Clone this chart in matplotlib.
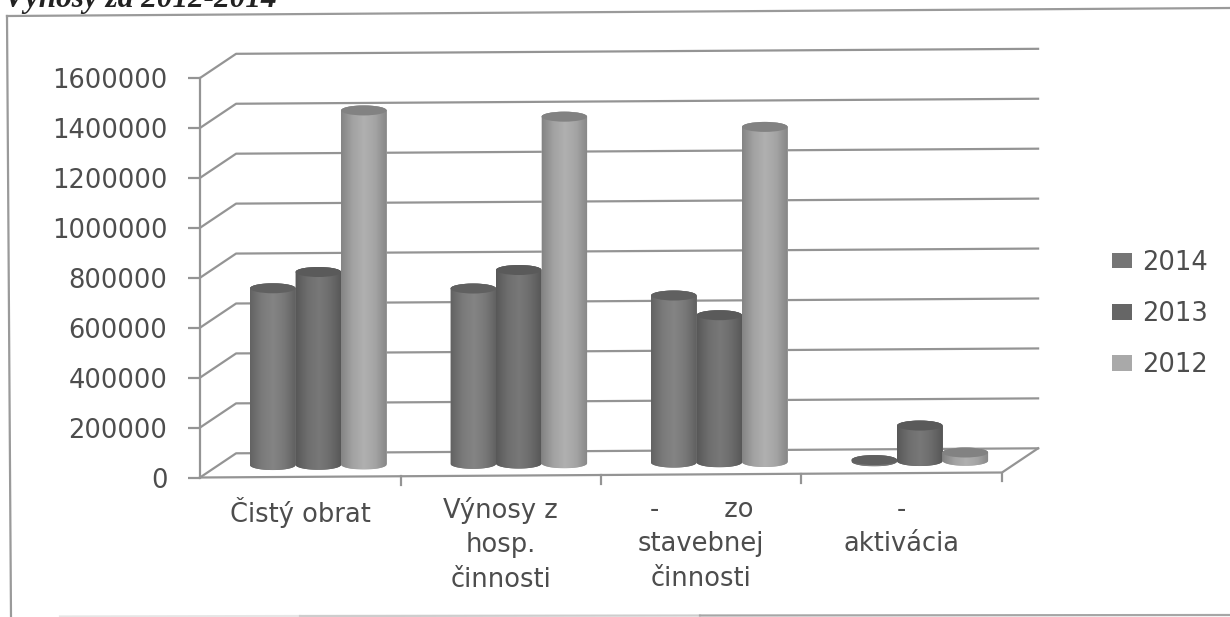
import numpy as np
import matplotlib
matplotlib.use("Agg")
import matplotlib.pyplot as plt
from matplotlib.colors import LinearSegmentedColormap
from matplotlib.lines import Line2D
from matplotlib.patches import Ellipse, PathPatch, Rectangle
from matplotlib.path import Path

categories = ["Čistý obrat", "Výnosy z\nhosp.\nčinnosti", "-        zo\nstavebnej\nčinnosti", "-\naktivácia"]
years = ["2014", "2013", "2012"]
values_2014 = [708000, 702000, 669000, 5000]
values_2013 = [772000, 775000, 589000, 142000]
values_2012 = [1418000, 1388000, 1342000, 33000]
y_ticks = [0, 200000, 400000, 600000, 800000, 1000000, 1200000, 1400000, 1600000]
title = "Výnosy za 2012-2014"

series = [values_2014, values_2013, values_2012]
ramps = [
    ["#636363", "#7a7a7a", "#848484", "#787878", "#606060"],
    ["#585858", "#6e6e6e", "#787878", "#6c6c6c", "#565656"],
    ["#848484", "#a2a2a2", "#b0b0b0", "#a4a4a4", "#868686"],
]
top_cols = ["#606060", "#5a5a5a", "#828282"]
swatch_cols = ["#757575", "#666666", "#a9a9a9"]
line_col = "#949494"
text_col = "#4d4d4d"
FONT = ["DejaVu Sans"]
FS = 18.5

W, H = 1230, 617
fig = plt.figure(figsize=(W / 100, H / 100), dpi=100, facecolor="white")
ax = fig.add_axes([200 / W, (H - 477.5) / H, 802 / W, 399.5 / H])
ax.set_facecolor("none")
XMAX, YMAX = 4, 1600000
ax.set_xlim(0, XMAX)
ax.set_ylim(0, YMAX)

DX, DY, TILT = 0.18, 96000, 5000.0   # depth shift of the back wall and scan tilt


def proj(x, v, d=0.0):
    xx = x + d * DX
    return xx, v + d * DY + TILT * xx


# gridlines on the walls
for v in y_ticks:
    x1, y1 = proj(0, v, 1)
    x2, y2 = proj(XMAX, v, 1)
    ax.plot([0, x1, x2], [v, y1, y2], color=line_col, lw=1.6, zorder=1, clip_on=False)

# floor
fx1, fy1 = proj(XMAX, 0, 0)
bx1, by1 = proj(XMAX, 0, 1)
ax.plot([0, fx1, bx1], [0, fy1, by1], color=line_col, lw=1.6, zorder=1, clip_on=False)
for c in range(1, XMAX + 1):
    tx, ty = proj(c, 0, 0)
    ax.plot([tx, tx], [ty, ty - 36000], color=line_col, lw=1.6, zorder=1, clip_on=False)

# cylinders
BW = 0.227
SEMI_V = 20000
t = np.linspace(0, np.pi, 40)
z = 3
grad = np.linspace(0, 1, 128).reshape(1, -1)
for cat in range(len(categories)):
    for s, vals in enumerate(series):
        cx, base = proj(cat + 0.5 + (s - 1) * BW, 0, 0.5)
        top = base + vals[cat]
        cmap = LinearSegmentedColormap.from_list(f"r{s}", ramps[s])
        ax.bar(cx, vals[cat], BW, bottom=base, color=swatch_cols[s], linewidth=0, zorder=z, clip_on=False)
        left, right = cx - BW / 2, cx + BW / 2
        xs = np.concatenate([cx - np.cos(t) * BW / 2, cx + np.cos(t) * BW / 2])
        ys = np.concatenate([base - np.sin(t) * SEMI_V, top + np.sin(t) * SEMI_V])
        path = Path(np.column_stack([xs, ys]))
        clip = PathPatch(path, transform=ax.transData, fc=swatch_cols[s], ec="none", zorder=z, clip_on=False)
        ax.add_patch(clip)
        im = ax.imshow(grad, cmap=cmap, extent=[left, right, base - SEMI_V, top + SEMI_V],
                       aspect="auto", zorder=z + 0.1, interpolation="bilinear", origin="lower")
        im.set_clip_path(clip)
        ax.add_patch(Ellipse((cx, top), BW, 2 * SEMI_V, fc=top_cols[s], ec="none", zorder=z + 0.2, clip_on=False))
        z += 1

ax.set_xlim(0, XMAX)
ax.set_ylim(0, YMAX)

# axes
for name in ["top", "right", "bottom"]:
    ax.spines[name].set_visible(False)
ax.spines["left"].set_color(line_col)
ax.spines["left"].set_linewidth(1.6)
ax.set_yticks(y_ticks)
ax.set_yticklabels([str(v) for v in y_ticks], family=FONT, fontsize=FS, color=text_col)
ax.tick_params(axis="y", length=8.5, width=1.6, color=line_col, pad=15)
ax.set_xticks([c + 0.5 for c in range(len(categories))])
ax.set_xticklabels(categories, family=FONT, fontsize=FS, color=text_col, linespacing=1.42)
ax.tick_params(axis="x", length=0, pad=14)

# legend
handles = [Rectangle((0, 0), 1, 1, fc=c, ec="none") for c in swatch_cols]
ax.legend(handles, years, loc="upper left", bbox_to_anchor=(1099 / W, (H - 237) / H),
          bbox_transform=fig.transFigure, frameon=False,
          prop={"family": FONT, "size": FS}, labelcolor=text_col, handlelength=0.78,
          handleheight=0.55, handletextpad=0.38, labelspacing=0.98, borderpad=0.5, borderaxespad=0)

# outer frame of the scanned page
def frame(x0, y0, x1, y1, col="#9a9a9a"):
    fig.add_artist(Line2D([x0 / W, x1 / W], [1 - y0 / H, 1 - y1 / H], color=col, lw=1.6))

frame(7, 16, 1230, 8)
frame(7, 16, 11, 617)
frame(60, 616.5, 300, 616, "#e6e6e6")
frame(300, 616, 700, 615.5, "#cdcdcd")
frame(700, 615.5, 1230, 615, "#a6a6a6")

fig.text(4 / W, 1 - 7 / H, title, family="Liberation Serif", style="italic", weight="bold",
         fontsize=22.5, color="#222222", va="baseline", ha="left")

fig.savefig("out.png", dpi=100, facecolor="white")
